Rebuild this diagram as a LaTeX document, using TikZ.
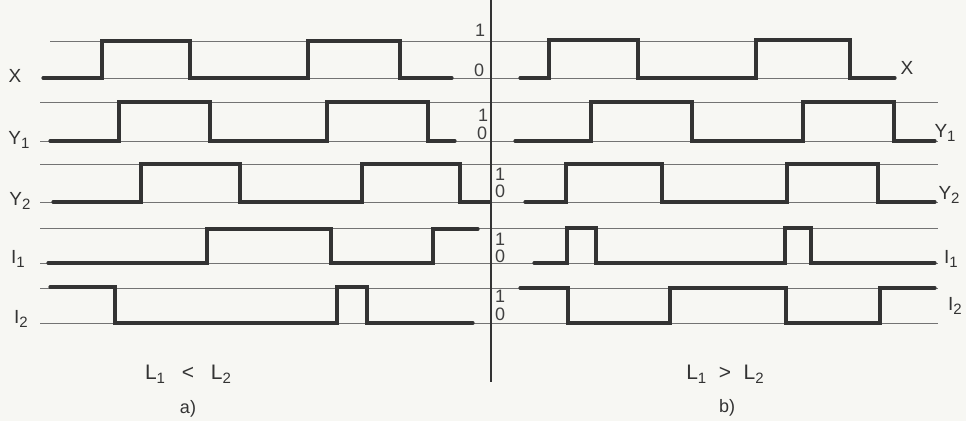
\documentclass[tikz,border=0pt]{standalone}
\usepackage{fontspec}
\setmainfont{Liberation Sans}
\newcommand{\sbs}[1]{\raisebox{-0.4ex}{\fontsize{15}{16}\selectfont #1}}
\definecolor{paper}{RGB}{247,247,243}
\begin{document}
\begin{tikzpicture}[x=1pt,y=-1pt,
  wave/.style={draw=black!80,line width=3.2pt,line join=miter,line cap=round},
  guide/.style={draw=black!55,line width=0.8pt},
  axisline/.style={draw=black!80,line width=1.8pt},
  lbl/.style={font=\fontsize{19}{21}\selectfont,text=black!80,inner sep=0pt},
  digit/.style={font=\fontsize{18}{19}\selectfont,text=black!75,inner sep=0pt},
  captext/.style={font=\fontsize{21}{23}\selectfont,text=black!80,inner sep=0pt}]
\fill[paper] (0,0) rectangle (966,421);
\useasboundingbox (0,0) rectangle (966,421);
% guide lines
\foreach \ya/\yb in {41/78}{
  \draw[guide] (50,\ya) -- (850,\ya);
  \draw[guide] (45,\yb) -- (895,\yb);}
\foreach \ya/\yb in {102/141,164/202,228/263,288/323}{
  \draw[guide] (40,\ya) -- (938,\ya);
  \draw[guide] (40,\yb) -- (938,\yb);}
% axis
\draw[axisline] (491,0) -- (491,382);
% left waveforms
\draw[wave] (43,78)--(102,78)--(102,41)--(190,41)--(190,78)--(308,78)--(308,41)--(400,41)--(400,78)--(452,78);
\draw[wave] (50,141)--(119,141)--(119,102)--(210,102)--(210,141)--(327,141)--(327,102)--(428,102)--(428,141)--(455,141);
\draw[wave] (53,202)--(141,202)--(141,164)--(240,164)--(240,202)--(362,202)--(362,164)--(460,164)--(460,202)--(490,202);
\draw[wave] (48,263)--(207,263)--(207,229)--(331,229)--(331,263)--(433,263)--(433,229)--(478,229);
\draw[wave] (50,287)--(115,287)--(115,323)--(337,323)--(337,287)--(367,287)--(367,323)--(473,323);
% right waveforms
\draw[wave] (520,78)--(549,78)--(549,40)--(638,40)--(638,78)--(756,78)--(756,40)--(850,40)--(850,78)--(895,78);
\draw[wave] (515,141)--(591,141)--(591,102)--(692,102)--(692,141)--(803,141)--(803,102)--(894,102)--(894,141)--(935,141);
\draw[wave] (525,202)--(566,202)--(566,164)--(662,164)--(662,202)--(787,202)--(787,164)--(878,164)--(878,202)--(935,202);
\draw[wave] (534,263)--(567,263)--(567,228)--(596,228)--(596,263)--(785,263)--(785,228)--(811,228)--(811,263)--(935,263);
\draw[wave] (520,288)--(568,288)--(568,323)--(670,323)--(670,288)--(786,288)--(786,323)--(880,323)--(880,288)--(935,288);
% left labels
\node[lbl] (lx) at (15,76) {X};
\node[lbl] (ly1) at (19,140) {Y\sbs{1}};
\node[lbl] (ly2) at (20,201) {Y\sbs{2}};
\node[lbl] (li1) at (18,259) {I\sbs{1}};
\node[lbl] (li2) at (21,319) {I\sbs{2}};
% right labels
\node[lbl] (rx) at (907,68) {X};
\node[lbl] (ry1) at (945,133) {Y\sbs{1}};
\node[lbl] (ry2) at (949,195) {Y\sbs{2}};
\node[lbl] (ri1) at (951,259) {I\sbs{1}};
\node[lbl] (ri2) at (955,306) {I\sbs{2}};
% digits
\node[digit] (d1x) at (480,30) {1};
\node[digit] (d0x) at (479,70) {0};
\node[digit] (d1y1) at (483,115) {1};
\node[digit] (d0y1) at (482,133) {0};
\node[digit] (d1y2) at (500,174) {1};
\node[digit] (d0y2) at (500,191) {0};
\node[digit] (d1i1) at (500,239) {1};
\node[digit] (d0i1) at (500,256) {0};
\node[digit] (d1i2) at (500,296) {1};
\node[digit] (d0i2) at (500,314) {0};
% captions
\node[captext] (ca) at (188,374) {L\sbs{1}\hspace{0.8em}<\hspace{0.8em}L\sbs{2}};
\node[captext,font=\fontsize{18}{20}\selectfont] (sa) at (188,409) {a)};
\node[captext] (cb) at (725,374) {L\sbs{1}\hspace{0.6em}>\hspace{0.6em}L\sbs{2}};
\node[captext,font=\fontsize{18}{20}\selectfont] (sb) at (727,408) {b)};
\end{tikzpicture}
\end{document}
